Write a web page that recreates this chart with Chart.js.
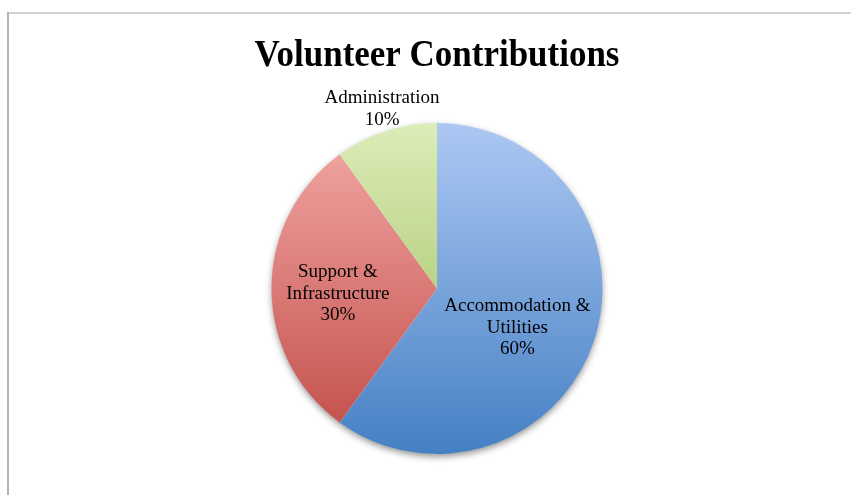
<!DOCTYPE html>
<html>
<head>
<meta charset="utf-8">
<script src="https://cdn.jsdelivr.net/npm/chart.js@4.4.1/dist/chart.umd.min.js"></script>
<style>
  html, body { margin: 0; padding: 0; background: #fff; }
  #wrap { position: relative; width: 851px; height: 495px; overflow: hidden; }
  #frameTop { position: absolute; left: 8px; top: 12px; width: 843px; height: 0; border-top: 2px solid #d4d4d4; }
  #frameLeft { position: absolute; left: 7px; top: 12px; width: 0; height: 483px; border-left: 2px solid #b4b4b4; }
  canvas { position: absolute; left: 0; top: 0; }
</style>
</head>
<body>
<div id="wrap">
  <canvas id="c" width="851" height="495"></canvas>
  <div id="frameTop"></div>
  <div id="frameLeft"></div>
</div>
<script>
const titleText = 'Volunteer Contributions';
const categories = [['Accommodation &', 'Utilities'], ['Support &', 'Infrastructure'], ['Administration']];
const values = [60, 30, 10];
const percentLabels = ['60%', '30%', '10%'];
const topColors = ['#adc8f3', '#f3aaa7', '#dcedb8'];
const bottomColors = ['#4580c4', '#c04a45', '#98b855'];

function sliceGradient(ctx) {
  const chart = ctx.chart;
  const area = chart.chartArea;
  if (!area) return topColors[ctx.dataIndex];
  const g = chart.ctx.createLinearGradient(0, area.top, 0, area.bottom);
  g.addColorStop(0, topColors[ctx.dataIndex]);
  g.addColorStop(1, bottomColors[ctx.dataIndex]);
  return g;
}

const shadowPlugin = {
  id: 'pieShadow',
  beforeDatasetsDraw(chart) {
    const arc = chart.getDatasetMeta(0).data[0];
    if (!arc) return;
    const c = chart.ctx;
    c.save();
    c.shadowColor = 'rgba(0,0,0,0.45)';
    c.shadowBlur = 7;
    c.shadowOffsetX = 0;
    c.shadowOffsetY = 3;
    c.fillStyle = '#ffffff';
    c.beginPath();
    c.arc(arc.x, arc.y, arc.outerRadius - 0.5, 0, Math.PI * 2);
    c.fill();
    c.restore();
  }
};

const labelPlugin = {
  id: 'sliceLabels',
  afterDatasetsDraw(chart, args, opts) {
    const c = chart.ctx;
    const meta = chart.getDatasetMeta(0);
    c.save();
    c.fillStyle = '#000';
    c.textAlign = 'center';
    c.textBaseline = 'middle';
    c.font = opts.font;
    meta.data.forEach((arc, i) => {
      const p = opts.place[i];
      const mid = (arc.startAngle + arc.endAngle) / 2 + p.da * Math.PI / 180;
      const r = arc.outerRadius * p.f;
      const x = arc.x + Math.cos(mid) * r;
      const y = arc.y + Math.sin(mid) * r;
      const lines = [].concat(categories[i], [percentLabels[i]]);
      const lh = opts.lineHeight;
      const y0 = y - (lines.length - 1) * lh / 2;
      lines.forEach((t, k) => {
        c.save();
        c.translate(x, y0 + k * lh);
        c.scale(opts.scaleX, 1);
        c.fillText(t, 0, 0);
        c.restore();
      });
    });
    c.restore();
  }
};

const titlePlugin = {
  id: 'customTitle',
  afterDraw(chart, args, opts) {
    const c = chart.ctx;
    c.save();
    c.fillStyle = '#000';
    c.textAlign = 'center';
    c.textBaseline = 'alphabetic';
    c.font = opts.font;
    c.translate(opts.x, opts.y);
    c.scale(opts.scaleX, 1);
    c.fillText(titleText, 0, 0);
    c.restore();
  }
};

new Chart(document.getElementById('c'), {
  type: 'pie',
  data: {
    labels: categories.map(l => l.join(' ')),
    datasets: [{
      data: values,
      backgroundColor: sliceGradient,
      borderWidth: 0,
      hoverOffset: 0
    }]
  },
  options: {
    responsive: false,
    animation: false,
    events: [],
    layout: { padding: { left: 271.5, right: 248.5, top: 123, bottom: 41 } },
    plugins: {
      legend: { display: false },
      tooltip: { enabled: false },
      title: { display: false },
      customTitle: { font: 'bold 38px "Liberation Serif"', x: 437, y: 66, scaleX: 0.92 },
      sliceLabels: {
        font: '19px "Liberation Serif"',
        lineHeight: 21.5,
        scaleX: 1,
        place: [{ f: 0.54, da: 8 }, { f: 0.60, da: -3 }, { f: 1.135, da: 1 }]
      }
    }
  },
  plugins: [shadowPlugin, labelPlugin, titlePlugin]
});
</script>
</body>
</html>
